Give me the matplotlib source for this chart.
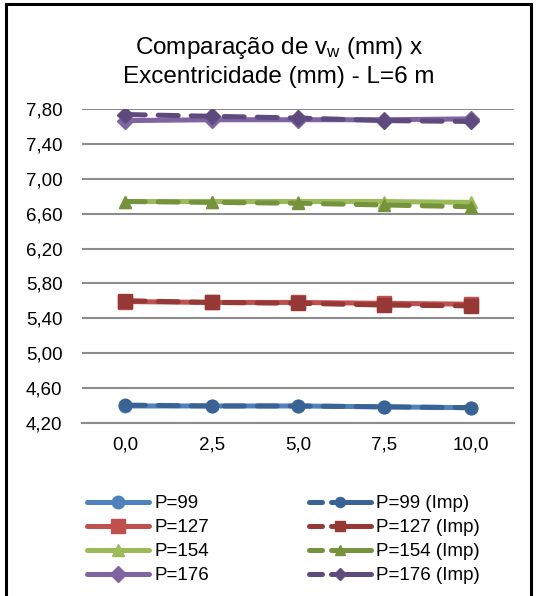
import matplotlib
matplotlib.use("Agg")
import matplotlib.pyplot as plt
from matplotlib.patches import Rectangle
from matplotlib.lines import Line2D

plt.rcParams['font.family'] = ['Liberation Sans', 'DejaVu Sans']
plt.rcParams['mathtext.fontset'] = 'custom'
plt.rcParams['mathtext.rm'] = 'Liberation Sans'
plt.rcParams['mathtext.it'] = 'Liberation Sans'

# Eccentricity categories (mm)
excentricidade = ["0,0", "2,5", "5,0", "7,5", "10,0"]

# Lateral displacement v_w (mm) for each load P
p99 = [4.39, 4.39, 4.39, 4.38, 4.37]
p127 = [5.59, 5.58, 5.58, 5.57, 5.56]
p154 = [6.74, 6.74, 6.74, 6.74, 6.73]
p176 = [7.67, 7.68, 7.68, 7.68, 7.69]

# Same loads, with imperfection
p99_imp = [4.40, 4.39, 4.39, 4.38, 4.37]
p127_imp = [5.60, 5.58, 5.57, 5.55, 5.54]
p154_imp = [6.74, 6.73, 6.72, 6.70, 6.68]
p176_imp = [7.74, 7.72, 7.70, 7.67, 7.66]

labels = ["P=99", "P=127", "P=154", "P=176"]
labels_imp = ["P=99 (Imp)", "P=127 (Imp)", "P=154 (Imp)", "P=176 (Imp)"]

yticks = [4.20, 4.60, 5.00, 5.40, 5.80, 6.20, 6.60, 7.00, 7.40, 7.80]

W, H = 539, 596
fig = plt.figure(figsize=(W / 100, H / 100), dpi=100)
ax = fig.add_axes([82 / W, 1 - 422.5 / H, (514 - 82) / W, (422.5 - 109.3) / H])

x = list(range(len(excentricidade)))
solid_colors = ["#4F81BD", "#C0504D", "#9BBB59", "#8064A2"]
imp_colors = ["#3A6395", "#953836", "#76923C", "#5F4A7E"]
markers = ["o", "s", "^", "D"]
msizes = [9, 9.5, 9, 8]
lw = 3.6
dash = (0, (4.0, 2.6))

legend_handles = []
for vals, c, m, ms, lab in zip([p99, p127, p154, p176], solid_colors, markers, msizes, labels):
    h, = ax.plot(x, vals, color=c, lw=lw, marker=m, ms=ms, mec=c, mfc=c,
                 solid_capstyle='round', solid_joinstyle='round', label=lab, zorder=3)
    legend_handles.append(h)
for vals, c, m, ms, lab in zip([p99_imp, p127_imp, p154_imp, p176_imp], imp_colors, markers, msizes, labels_imp):
    ax.plot(x, vals, color=c, lw=lw, marker=m, ms=ms, mec=c, mfc=c,
            linestyle=dash, dash_capstyle='round', zorder=4)
    # legend key: dash, gap, marker, dash
    legend_handles.append(Line2D([], [], color=c, lw=lw, marker=m, ms=ms * 0.8,
                                 mec=c, mfc=c, linestyle=(0, (2.6, 1.8, 9, 2)),
                                 dash_capstyle='round', label=lab))

ax.set_xlim(-0.5, len(excentricidade) - 0.5)
ax.set_ylim(4.20, 7.80)
ax.set_yticks(yticks)
ax.set_yticklabels([f"{v:.2f}".replace('.', ',') for v in yticks])
ax.set_xticks(x)
ax.set_xticklabels(excentricidade)
ax.tick_params(axis='both', length=0, labelsize=13.5, colors='black')
ax.tick_params(axis='y', pad=14)
ax.tick_params(axis='x', pad=10)
ax.yaxis.grid(True, color='#8C8C8C', lw=1.5)
ax.set_axisbelow(True)
for s in ['left', 'right', 'top']:
    ax.spines[s].set_visible(False)
ax.spines['bottom'].set_color('#8C8C8C')
ax.spines['bottom'].set_linewidth(1.5)

fig.text(279 / W, 1 - 48 / H, "Comparação de v$_{\\mathrm{w}}$ (mm) x",
         ha='center', va='center', fontsize=17.5)
fig.text(279 / W, 1 - 77 / H, "Excentricidade (mm) - L=6 m",
         ha='center', va='center', fontsize=17.5)

fig.legend(handles=legend_handles, ncol=2, loc='upper left',
           bbox_to_anchor=(78 / W, 1 - 486 / H), frameon=False,
           fontsize=13.5, handlelength=3.3, handletextpad=0.3,
           columnspacing=5.3, labelspacing=0.36, borderpad=0)

fig.add_artist(Rectangle((6 / W, -0.01), (531 - 6) / W, 1 - 4 / H + 0.01,
                         transform=fig.transFigure, fill=False,
                         edgecolor='black', lw=2.2))

fig.savefig("out.png", dpi=100)
